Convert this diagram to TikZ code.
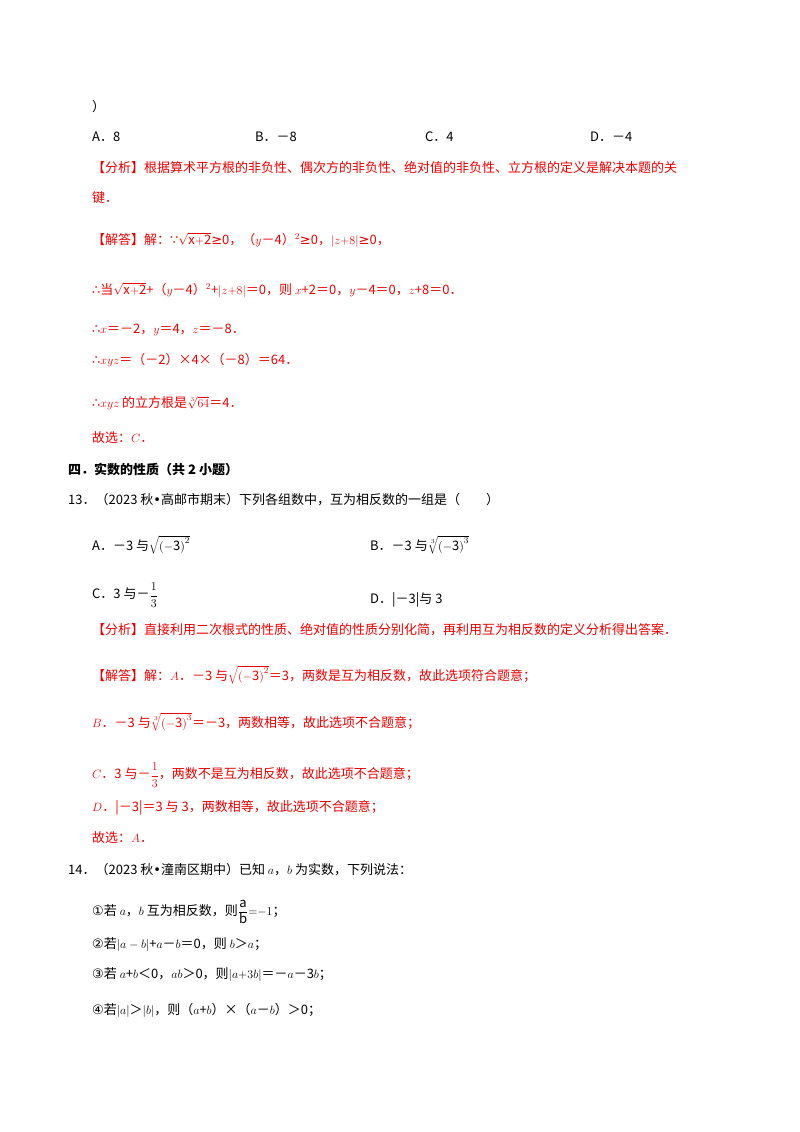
\documentclass[tikz,border=0pt]{standalone}
\usepackage{fontspec}
\setmainfont{Noto Sans CJK SC}
\newfontfamily\sym{DejaVu Sans}
\definecolor{ans}{RGB}{235,0,0}
\newcommand{\mfrac}[2]{{\displaystyle\frac{#1}{#2}}}
\begin{document}
\begin{tikzpicture}[x=1pt,y=-1pt,
  t/.style={anchor=west,inner sep=0pt,font=\fontsize{13}{15}\selectfont},
  r/.style={t,text=ans}]
\useasboundingbox[fill=white] (0,0) rectangle (800,1132);
\node[t] (l0) at (92,107) {）};
\node[t] (a1) at (92,137) {A．8};
\node[t] (b1) at (255,137) {B．－8};
\node[t] (c1) at (425,137) {C．4};
\node[t] (d1) at (590,137) {D．－4};
\node[r] (f1) at (92,168) {【分析】根据算术平方根的非负性、偶次方的非负性、绝对值的非负性、立方根的定义是解决本题的关};
\node[r] (f2) at (92,198) {键．};
\node[r] (j1) at (92,240) {【解答】解：{\sym ∵}$\sqrt{\mathrm{x{+}2}}${\sym ≥}0，（$y$－4）$^2${\sym ≥}0，$|z{+}8|${\sym ≥}0，};
\node[r] (j2) at (92,290) {{\sym ∴}当$\sqrt{\mathrm{x{+}2}}$+（$y$－4）$^2$+$|z{+}8|$＝0，则 $x$+2＝0，$y$－4＝0，$z$+8＝0．};
\node[r] (j3) at (92,330) {{\sym ∴}$x$＝－2，$y$＝4，$z$＝－8．};
\node[r] (j4) at (92,360) {{\sym ∴}$xyz$＝（－2）×4×（－8）＝64．};
\node[r] (j5) at (92,403) {{\sym ∴}$xyz$ 的立方根是$\sqrt[3]{64}$＝4．};
\node[r] (j6) at (92,438) {故选：$C$．};
\node[t,font=\fontsize{13}{15}\selectfont\bfseries] (s4) at (68,470) {四．实数的性质（共 2 小题）};
\node[t] (q13) at (68,500) {13．（2023 秋{\sym •}高邮市期末）下列各组数中，互为相反数的一组是（\qquad）};
\node[t] (qa) at (92,545) {A．－3 与$\sqrt{\mathrm{(-3)}^2}$};
\node[t] (qb) at (370,545) {B．－3 与$\sqrt[3]{\mathrm{(-3)}^3}$};
\node[t] (qc) at (92,595) {C．3 与－$\mfrac{1}{3}$};
\node[t] (qd) at (370,600) {D．|－3|与 3};
\node[r] (g1) at (92,630) {【分析】直接利用二次根式的性质、绝对值的性质分别化简，再利用互为相反数的定义分析得出答案．};
\node[r] (g2) at (92,675) {【解答】解：$A$．－3 与$\sqrt{\mathrm{(-3)}^2}$＝3，两数是互为相反数，故此选项符合题意；};
\node[r] (g3) at (92,722) {$B$．－3 与$\sqrt[3]{\mathrm{(-3)}^3}$＝－3，两数相等，故此选项不合题意；};
\node[r] (g4) at (92,775) {$C$．3 与－$\mfrac{1}{3}$，两数不是互为相反数，故此选项不合题意；};
\node[r] (g5) at (92,808) {$D$．|－3|＝3 与 3，两数相等，故此选项不合题意；};
\node[r] (g6) at (92,838) {故选：$A$．};
\node[t] (q14) at (68,870) {14．（2023 秋{\sym •}潼南区期中）已知 $a$，$b$ 为实数，下列说法：};
\node[t] (p1) at (92,912) {{\sym ①}若 $a$，$b$ 互为相反数，则$\mfrac{\mathrm{a}}{\mathrm{b}}{=}{-}1$；};
\node[t] (p2) at (92,945) {{\sym ②}若$|a-b|$+$a$－$b$＝0，则 $b$＞$a$；};
\node[t] (p3) at (92,975) {{\sym ③}若 $a$+$b$＜0，$ab$＞0，则$|a{+}3b|$＝－$a$－3$b$；};
\node[t] (p4) at (92,1010) {{\sym ④}若$|a|$＞$|b|$，则（$a$+$b$）×（$a$－$b$）＞0；};
\end{tikzpicture}
\end{document}
